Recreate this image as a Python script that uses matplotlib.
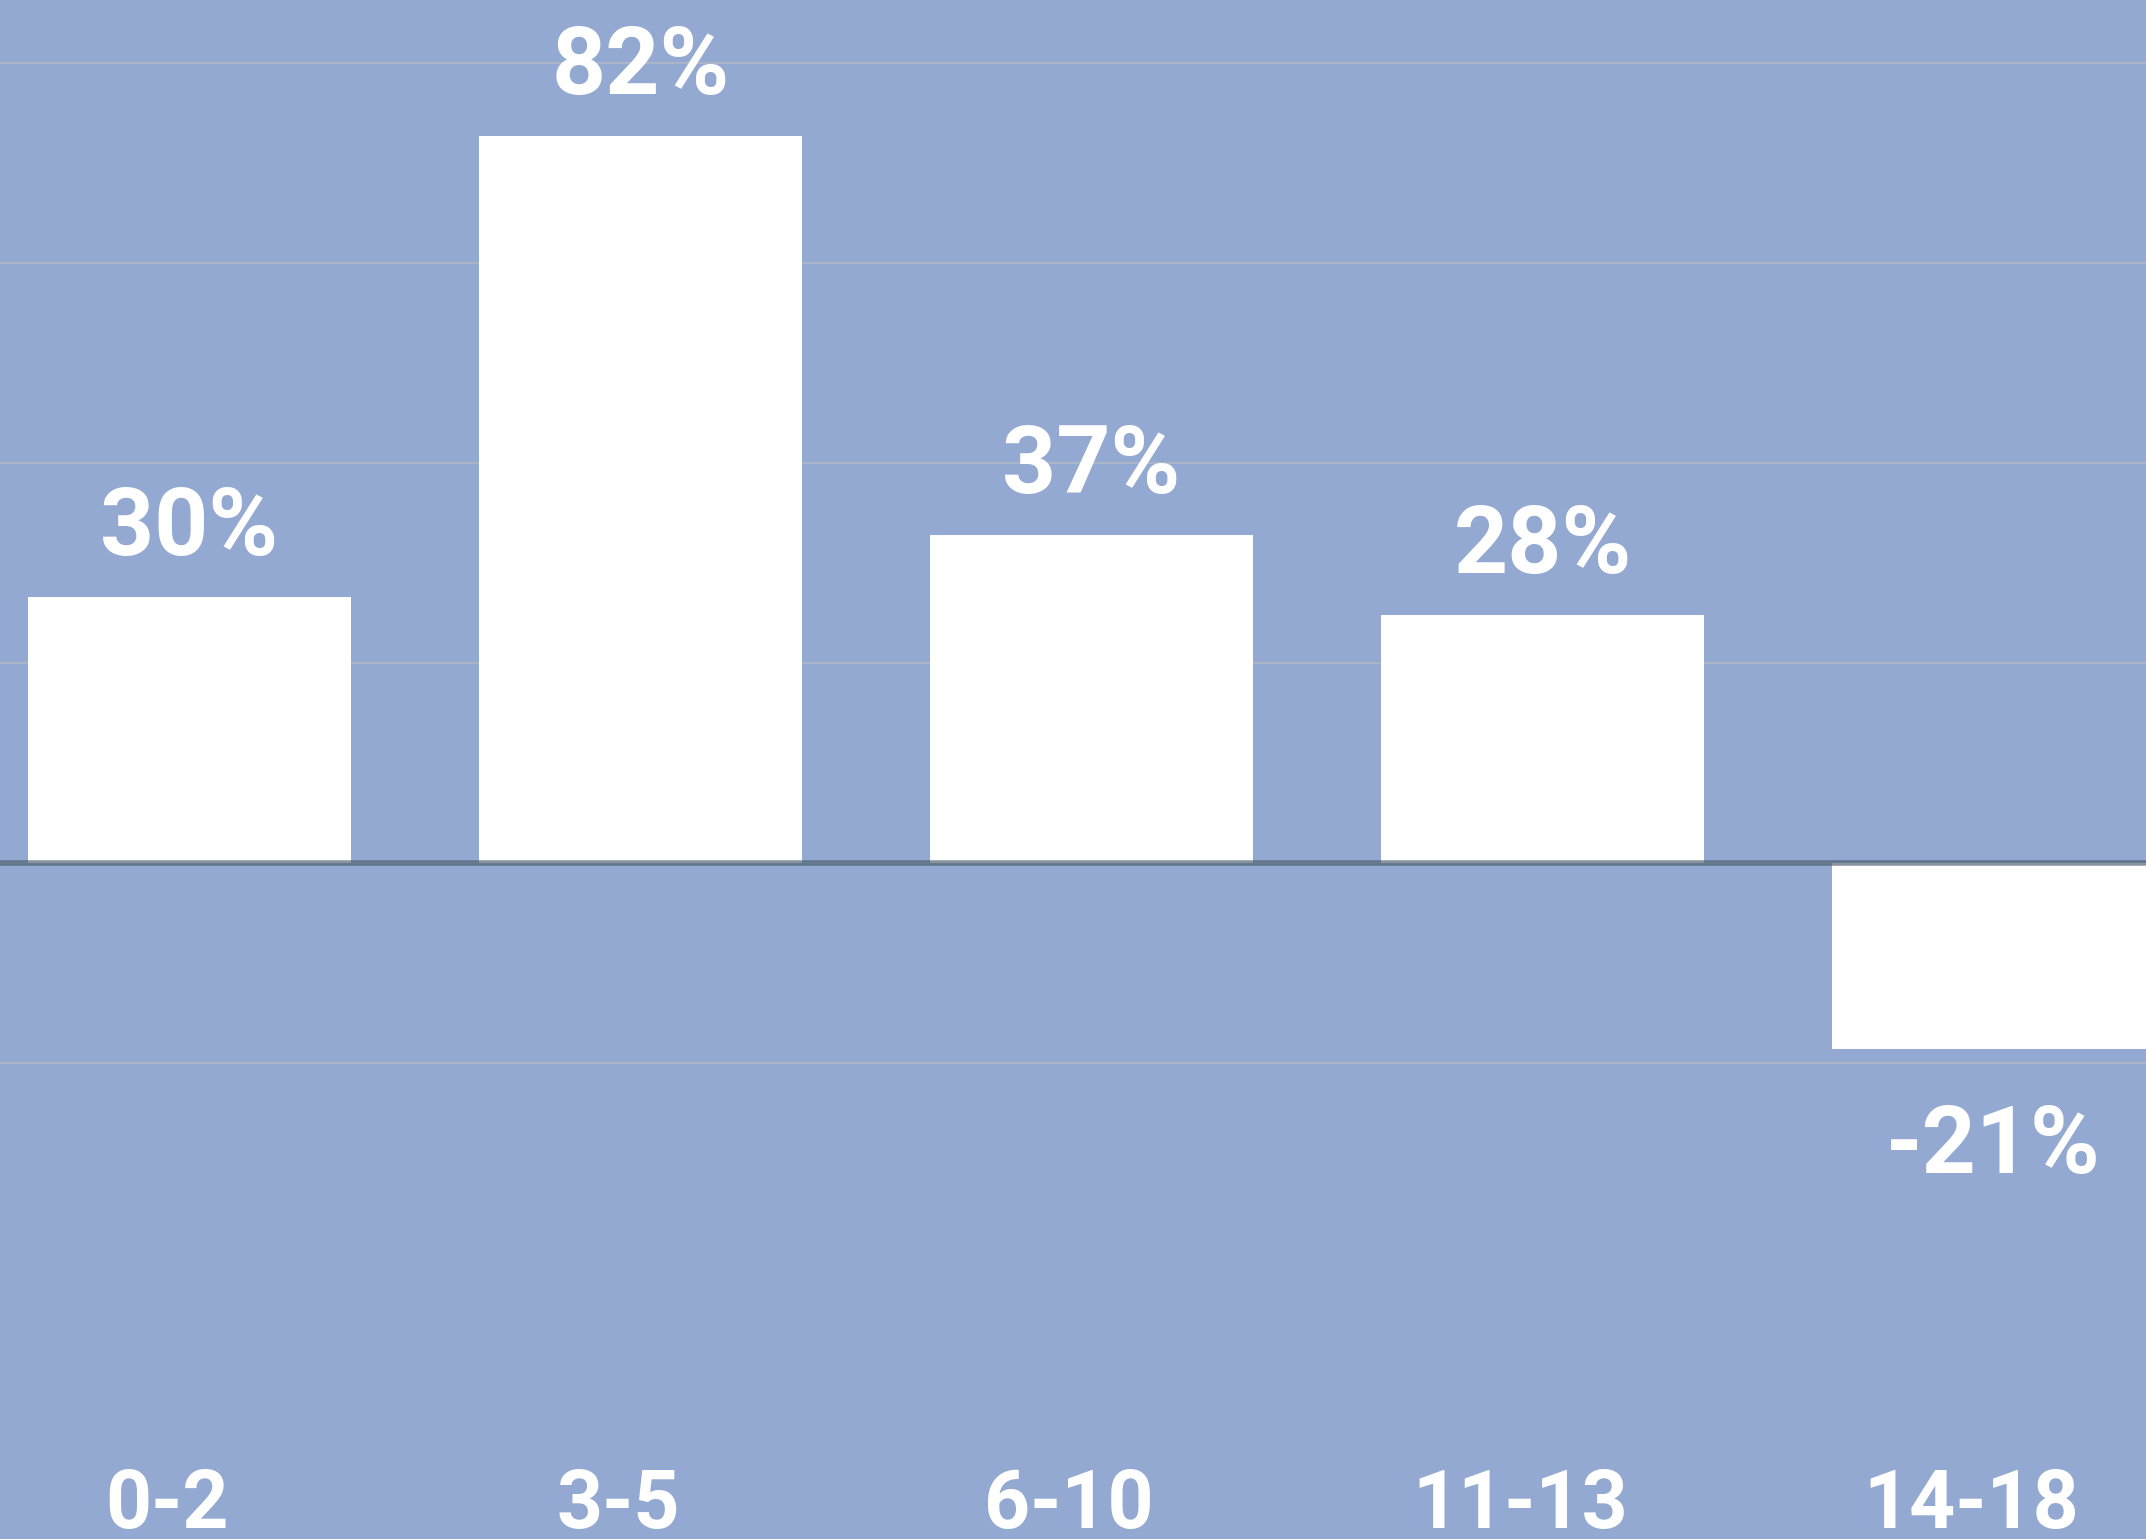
import numpy as np
import matplotlib.pyplot as plt

age_groups = ["0-2", "3-5", "6-10", "11-13", "14-18"]
changes = [30, 82, 37, 28, -21]
labels = ["30%", "82%", "37%", "28%", "-21%"]
grid_step = 22.55
grid_levels = [-1, 0, 1, 2, 3, 4]

bg = "#94a9d1"
plt.rcParams["font.family"] = ["Roboto", "DejaVu Sans"]

fig = plt.figure(figsize=(21.46, 15.39), dpi=100, facecolor=bg)
ax = fig.add_axes([0, 0, 1, 1], facecolor=bg)

x = np.arange(len(age_groups))
ax.bar(x, changes, width=0.716, color="white", zorder=2)

ax.set_xlim(-0.42, 4.338)
ax.set_ylim(-76.2, 97.3)
ax.set_yticks([k * grid_step for k in grid_levels])
ax.grid(axis="y", color="#b3b9c6", linewidth=1.1, zorder=0)
ax.axhline(0, color="#3f5566", alpha=0.62, linewidth=4, zorder=3)

for s in ax.spines.values():
    s.set_visible(False)
ax.tick_params(left=False, bottom=False, labelleft=False, labelbottom=False)

for xi, v, lab in zip(x, changes, labels):
    off = 42 if v >= 0 else -124
    ax.annotate(lab, (xi, v), xytext=(0, off), textcoords="offset pixels",
                ha="center", va="baseline", color="white",
                fontsize=68, fontweight="bold", zorder=4)

for xi, g in zip(x, age_groups):
    ax.text(xi - 0.05, 0.0072, g, transform=ax.get_xaxis_transform(),
            ha="center", va="baseline", color="white",
            fontsize=58, fontweight="bold")

fig.savefig("out.png", dpi=100, facecolor=bg)
